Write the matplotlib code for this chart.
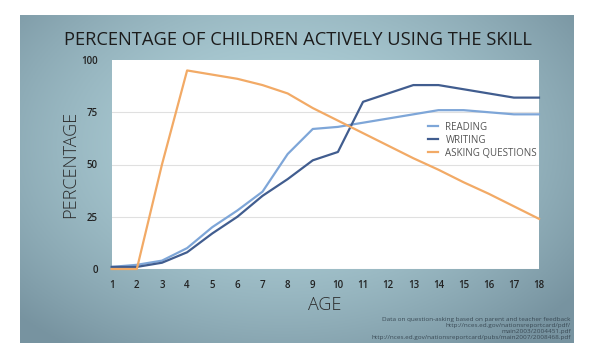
import numpy as np
import matplotlib
matplotlib.use("Agg")
import matplotlib.pyplot as plt

ages = list(range(1, 19))
reading = [1, 2, 4, 10, 20, 28, 37, 55, 67, 68, 70, 72, 74, 76, 76, 75, 74, 74]
writing = [1, 1, 3, 8, 17, 25, 35, 43, 52, 56, 80, 84, 88, 88, 86, 84, 82, 82]
asking = [0, 0, 50, 95, 93, 91, 88, 84, 77, 71, 65, 59, 53, 47.5, 41.5, 36, 30, 24]
series_names = ["READING", "WRITING", "ASKING QUESTIONS"]
colors = ["#7ea6d8", "#415d8f", "#f2aa66"]
yticks = [0, 25, 50, 75, 100]

W, H = 600, 363
fig = plt.figure(figsize=(W / 100, H / 100), dpi=100)
fig.patch.set_facecolor("white")

# slide background with radial gradient
bg = fig.add_axes([20 / W, 1 - 343 / H, 554 / W, 328 / H])
gx, gy = np.meshgrid(np.linspace(-1, 1, 300), np.linspace(-1, 1, 180))
r = np.sqrt(((gx + 0.05) / 1.1) ** 2 + ((gy + 0.2) / 1.25) ** 2)
r = np.clip(r, 0, 1.2) / 1.2
c0 = np.array([0.70, 0.83, 0.86])
c1 = np.array([0.47, 0.58, 0.63])
img = c0[None, None, :] * (1 - r[..., None] ** 1.6) + c1[None, None, :] * (r[..., None] ** 1.6)
bg.imshow(img, aspect="auto", extent=[0, 1, 0, 1], origin="upper")
bg.set_axis_off()

fam = ["Open Sans", "DejaVu Sans"]
fig.text(0.497, 1 - 40 / H, "PERCENTAGE OF CHILDREN ACTIVELY USING THE SKILL",
         ha="center", va="center", fontsize=13.2, color="#1c1c1c", family=fam)

ax = fig.add_axes([111.7 / W, 1 - 269 / H, 427.3 / W, 209 / H])
ax.set_facecolor("white")
for name, vals, c in zip(series_names, [reading, writing, asking], colors):
    ax.plot(ages, vals, color=c, lw=1.6, label=name, clip_on=False, zorder=3)
ax.set_xlim(1, 18)
ax.set_ylim(0, 100)
ax.set_xticks(ages)
ax.set_yticks(yticks)
for y in yticks[1:-1]:
    ax.axhline(y, color="#e0e0e0", lw=0.8, zorder=1)
ax.axhline(0, color="#d8d8d8", lw=0.8, zorder=1)
for s in ax.spines.values():
    s.set_visible(False)
ax.tick_params(length=0, labelsize=7, colors="#222222", pad=8)
ax.tick_params(axis="y", pad=10)
for lab in ax.get_xticklabels() + ax.get_yticklabels():
    lab.set_family(fam)
    lab.set_fontweight("semibold")

leg = ax.legend(loc="upper left", bbox_to_anchor=((424 - 111.7) / 427.3, (269 - 118) / 209),
                frameon=False, fontsize=7, handlelength=1.0, handletextpad=0.8,
                labelspacing=0.2, borderaxespad=0)
for t in leg.get_texts():
    t.set_color("#555555")
    t.set_family(fam)

fig.text(70 / W, 1 - 164 / H, "PERCENTAGE", rotation=90, ha="center", va="center",
         fontsize=13, color="#2a2a2a", family=fam, fontweight="light")
fig.text(325 / W, 1 - 305 / H, "AGE", ha="center", va="center",
         fontsize=13, color="#2a2a2a", family=fam, fontweight="light")

fs = 4.6
fig.text(571 / W, 1 - 319 / H, "Data on question-asking based on parent and teacher feedback",
         ha="right", va="center", fontsize=fs, color="#3a4a55", family=fam)
fig.text(571 / W, 1 - 325 / H, "http://nces.ed.gov/nationsreportcard/pdf/",
         ha="right", va="center", fontsize=fs, color="#3a4a55", family=fam)
fig.text(571 / W, 1 - 331 / H, "main2003/2004451.pdf",
         ha="right", va="center", fontsize=fs, color="#3a4a55", family=fam)
fig.text(571 / W, 1 - 337 / H, "http://nces.ed.gov/nationsreportcard/pubs/main2007/2008468.pdf",
         ha="right", va="center", fontsize=fs, color="#3a4a55", family=fam)

fig.savefig("out.png", dpi=100, facecolor="white")
